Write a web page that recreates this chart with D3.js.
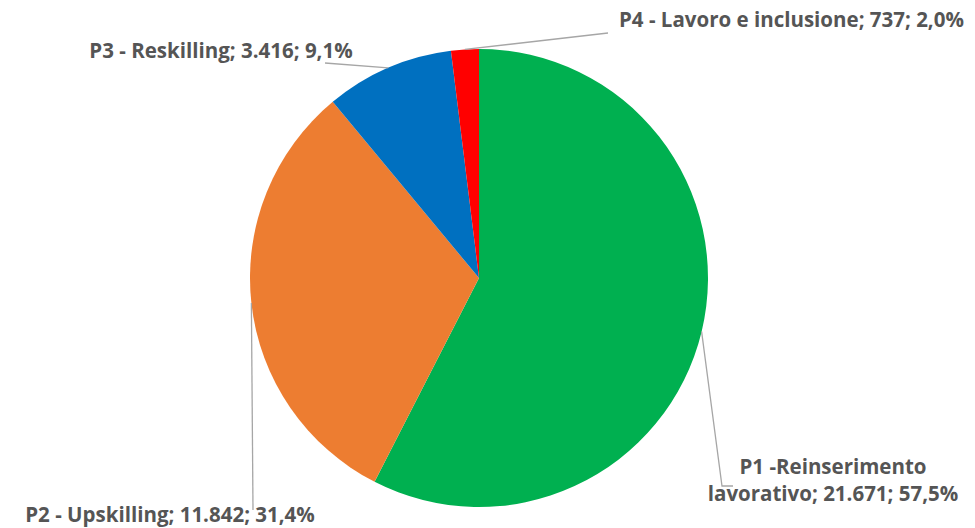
<!DOCTYPE html>
<html>
<head>
<meta charset="utf-8">
<script src="https://cdn.jsdelivr.net/npm/d3@7"></script>
<style>
  body { margin: 0; background: #fff; }
  svg { display: block; }
  text { font-family: "Open Sans", Lato, sans-serif; font-weight: bold; fill: #555555; }
</style>
</head>
<body>
<script>
// Data
const names = ["P1 -Reinserimento lavorativo", "P2 - Upskilling", "P3 - Reskilling", "P4 - Lavoro e inclusione"];
const values = [21671, 11842, 3416, 737];
const colors = ["#00B050", "#ED7D31", "#0070C0", "#FF0000"];

const width = 975;
const height = 528;
const cx = 479, cy = 278, radius = 229;

const svg = d3.select('body')
  .append('svg')
  .attr('width', width)
  .attr('height', height);

const total = d3.sum(values);
const fmtNum = d3.formatLocale({ decimal: ",", thousands: ".", grouping: [3] });
const fmtInt = fmtNum.format(",d");
const fmtPct = fmtNum.format(".1%");

const pie = d3.pie().sort(null).value(d => d.value);
const arc = d3.arc().innerRadius(0).outerRadius(radius);

const data = names.map((n, i) => ({ name: n, value: values[i], color: colors[i] }));
const arcs = pie(data);

const g = svg.append('g').attr('transform', `translate(${cx},${cy})`);

g.selectAll('path.slice')
  .data(arcs)
  .join('path')
  .attr('class', 'slice')
  .attr('d', arc)
  .attr('fill', d => d.data.color);

// Label placement (page coords); leader lines start at each slice's mid-angle on the rim
const labelLayout = [
  { path: [[722, 486], [733, 486]], x: 833, y: [467, 494], anchor: 'middle' },
  { path: [[253, 510]], x: 170, y: [515], anchor: 'middle' },
  { path: [[325, 63]], x: 221, y: [51], anchor: 'middle' },
  { path: [[608, 33]], x: 619, y: [20], anchor: 'start' }
];

const mid = d => (d.startAngle + d.endAngle) / 2;

arcs.forEach((d, i) => {
  const a = mid(d);
  const start = [cx + radius * Math.sin(a), cy - radius * Math.cos(a)];
  const lay = labelLayout[i];
  svg.append('path')
    .attr('d', d3.line()([start, ...lay.path]))
    .attr('fill', 'none')
    .attr('stroke', '#A6A6A6')
    .attr('stroke-width', 1.3);

  const tail = `${fmtInt(d.data.value)}; ${fmtPct(d.data.value / total)}`;
  let lines;
  if (i === 0) {
    lines = ["P1 -Reinserimento", `lavorativo; ${tail}`];
  } else {
    lines = [`${d.data.name}; ${tail}`];
  }
  const t = svg.append('text')
    .attr('text-anchor', lay.anchor)
    .attr('font-size', 20.5);
  lines.forEach((ln, j) => {
    t.append('tspan')
      .attr('x', lay.x)
      .attr('y', lay.y[j])
      .attr('dy', '0.35em')
      .text(ln);
  });
});
</script>
</body>
</html>
